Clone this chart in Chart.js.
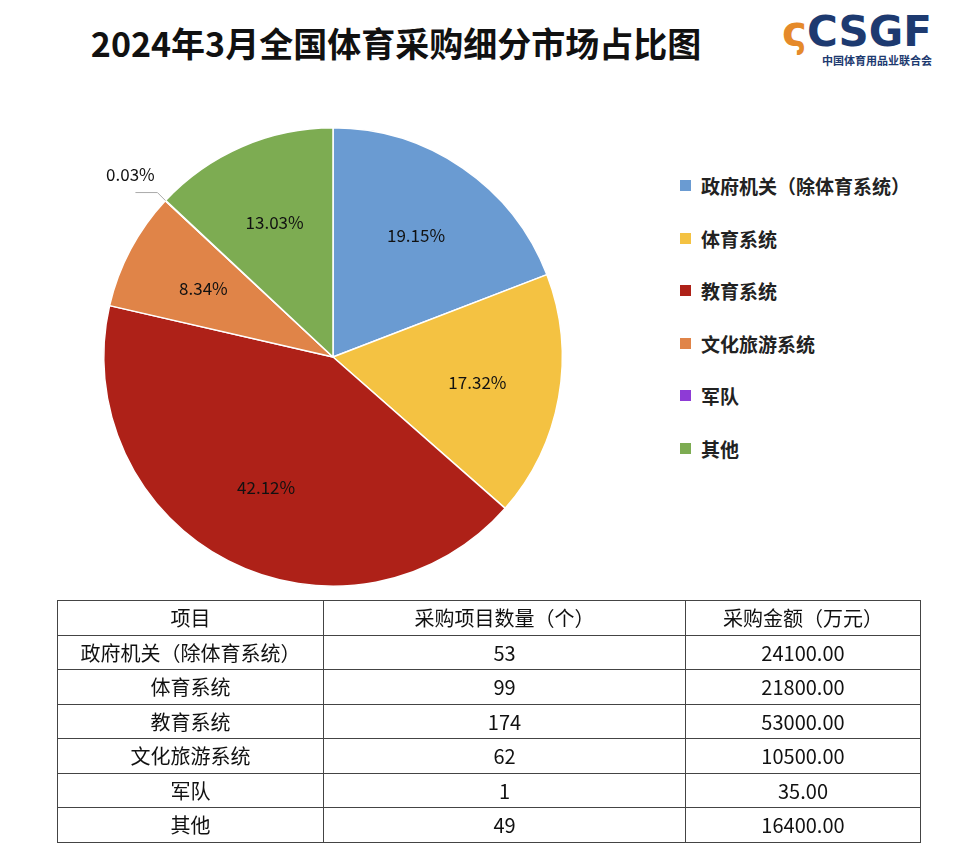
<!DOCTYPE html>
<html><head><meta charset="utf-8">
<script src="https://cdn.jsdelivr.net/npm/chart.js@4"></script>
<style>
body{margin:0;width:975px;height:853px;background:#fff;font-family:"Noto Sans CJK SC","Noto Sans",sans-serif;position:relative;overflow:hidden}
#title{position:absolute;left:0;top:18px;width:792px;text-align:center;font-size:34px;font-weight:bold;color:#111}
#logo{position:absolute;left:782px;top:10px}
#logo .big{font-family:"DejaVu Sans";font-weight:bold;font-size:42px;color:#1d3a70;letter-spacing:0px;line-height:44px}
#logo .big span{color:#e58a2a}
#logo .small{font-size:11px;font-weight:bold;color:#1d3a70;margin-left:40px;line-height:12px}
#wrap{position:absolute;left:0;top:100px;width:666px;height:514px}
#legend{position:absolute;left:680px;top:172px}
.li{height:52.5px;font-size:19px;font-weight:bold;color:#222;display:flex;align-items:flex-start}
.li i{display:inline-block;width:11px;height:11px;margin:8px 10px 0 0}
table{position:absolute;left:57px;top:600px;width:864px;border-collapse:collapse;font-size:20px;color:#111}
td{border:1px solid #444;text-align:center;height:33.5px;padding:0}
</style></head><body>
<div id="title">2024年3月全国体育采购细分市场占比图</div>
<div id="logo"><div class="big"><span>ς</span>CSGF</div><div class="small">中国体育用品业联合会</div></div>
<div id="wrap"><canvas id="pie"></canvas></div>
<div id="legend"></div>
<table id="tbl"></table>
<script>
// 数据
const categories = ['政府机关（除体育系统）', '体育系统', '教育系统', '文化旅游系统', '军队', '其他'];
const shares = [19.15, 17.32, 42.12, 8.34, 0.03, 13.03];
const counts = [53, 99, 174, 62, 1, 49];
const amounts = [24100, 21800, 53000, 10500, 35, 16400];
const colors = ['#6a9bd2', '#f4c242', '#ae2118', '#e08448', '#8e3bd6', '#7dac52'];

// 图例
document.getElementById('legend').innerHTML = categories.map((c, i) =>
  `<div class="li"><i style="background:${colors[i]}"></i>${c}</div>`).join('');

// 表格
let html = '<tr><td>项目</td><td>采购项目数量（个）</td><td>采购金额（万元）</td></tr>';
categories.forEach((c, i) => {
  html += `<tr><td>${c}</td><td>${counts[i]}</td><td>${amounts[i].toFixed(2)}</td></tr>`;
});
document.getElementById('tbl').innerHTML = html;
document.querySelectorAll('#tbl tr').forEach(tr => {
  tr.children[0].style.width = '265px'; tr.children[1].style.width = '361px';
});

// 标签
const labelPlugin = {
  id: 'labels',
  afterDatasetsDraw(chart) {
    const ctx = chart.ctx;
    ctx.save();
    ctx.font = '17px "Noto Sans CJK SC", sans-serif';
    ctx.fillStyle = '#111';
    ctx.textAlign = 'center';
    ctx.textBaseline = 'middle';
    chart.getDatasetMeta(0).data.forEach((arc, i) => {
      const mid = (arc.startAngle + arc.endAngle) / 2;
      const txt = shares[i].toFixed(2) + '%';
      if (shares[i] < 1) {
        const r = arc.outerRadius;
        const x1 = arc.x + Math.cos(mid) * r, y1 = arc.y + Math.sin(mid) * r;
        ctx.strokeStyle = '#aaa';
        ctx.beginPath();
        ctx.moveTo(x1, y1);
        ctx.lineTo(x1 - 8, y1 - 8);
        ctx.lineTo(x1 - 30, y1 - 8);
        ctx.stroke();
        ctx.fillText(txt, x1 - 35, y1 - 26);
      } else {
        const r = arc.outerRadius * 0.64;
        ctx.fillText(txt, arc.x + Math.cos(mid) * r, arc.y + Math.sin(mid) * r);
      }
    });
    ctx.restore();
  }
};

new Chart(document.getElementById('pie'), {
  type: 'pie',
  data: {
    labels: categories,
    datasets: [{ data: shares, backgroundColor: colors, borderColor: '#fff', borderWidth: 1.5 }]
  },
  options: {
    responsive: true,
    maintainAspectRatio: false,
    animation: false,
    layout: { padding: 27 },
    plugins: { legend: { display: false }, tooltip: { enabled: false } }
  },
  plugins: [labelPlugin]
});
</script>
</body></html>
